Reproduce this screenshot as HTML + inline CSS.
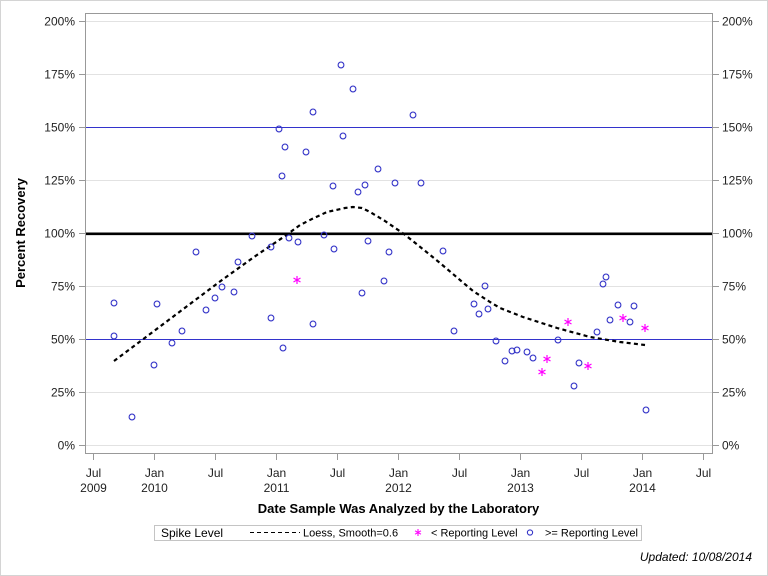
<!DOCTYPE html>
<html><head><meta charset="utf-8"><style>
html,body{margin:0;padding:0;background:#fff;}
svg{display:block;font-family:"Liberation Sans",Arial,sans-serif;}
</style></head><body>
<svg width="768" height="576" viewBox="0 0 768 576" xmlns="http://www.w3.org/2000/svg">
<rect x="0.5" y="0.5" width="767" height="575" fill="#fff" stroke="#d4d4d4" stroke-width="1"/>
<!-- gridlines -->
<g stroke="#e2e2e2" stroke-width="1">
<line x1="86" y1="21.5" x2="712" y2="21.5"/>
<line x1="86" y1="74.5" x2="712" y2="74.5"/>
<line x1="86" y1="180.5" x2="712" y2="180.5"/>
<line x1="86" y1="286.5" x2="712" y2="286.5"/>
<line x1="86" y1="392.5" x2="712" y2="392.5"/>
<line x1="86" y1="445.5" x2="712" y2="445.5"/>
</g>
<!-- reference lines -->
<line x1="86" y1="127.5" x2="712" y2="127.5" stroke="#3333cc" stroke-width="1"/>
<line x1="86" y1="339.5" x2="712" y2="339.5" stroke="#3333cc" stroke-width="1"/>
<line x1="86" y1="233.8" x2="712" y2="233.8" stroke="#000" stroke-width="2.6"/>
<!-- frame -->
<rect x="85.5" y="13.5" width="627" height="440" fill="none" stroke="#999" stroke-width="1"/>
<!-- y ticks -->
<g stroke="#999" stroke-width="1">
<line x1="79" y1="21.5" x2="85" y2="21.5"/><line x1="79" y1="74.5" x2="85" y2="74.5"/>
<line x1="79" y1="127.5" x2="85" y2="127.5"/><line x1="79" y1="180.5" x2="85" y2="180.5"/>
<line x1="79" y1="233.5" x2="85" y2="233.5"/><line x1="79" y1="286.5" x2="85" y2="286.5"/>
<line x1="79" y1="339.5" x2="85" y2="339.5"/><line x1="79" y1="392.5" x2="85" y2="392.5"/>
<line x1="79" y1="445.5" x2="85" y2="445.5"/>
<line x1="713" y1="21.5" x2="719" y2="21.5"/><line x1="713" y1="74.5" x2="719" y2="74.5"/>
<line x1="713" y1="127.5" x2="719" y2="127.5"/><line x1="713" y1="180.5" x2="719" y2="180.5"/>
<line x1="713" y1="233.5" x2="719" y2="233.5"/><line x1="713" y1="286.5" x2="719" y2="286.5"/>
<line x1="713" y1="339.5" x2="719" y2="339.5"/><line x1="713" y1="392.5" x2="719" y2="392.5"/>
<line x1="713" y1="445.5" x2="719" y2="445.5"/>
</g>
<g font-size="12" fill="#222" text-anchor="end">
<text x="75" y="25.5">200%</text><text x="75" y="78.5">175%</text>
<text x="75" y="131.5">150%</text><text x="75" y="184.5">125%</text>
<text x="75" y="237.5">100%</text><text x="75" y="290.5">75%</text>
<text x="75" y="343.5">50%</text><text x="75" y="396.5">25%</text>
<text x="75" y="449.5">0%</text>
</g>
<g font-size="12" fill="#222" text-anchor="start">
<text x="722" y="25.5">200%</text><text x="722" y="78.5">175%</text>
<text x="722" y="131.5">150%</text><text x="722" y="184.5">125%</text>
<text x="722" y="237.5">100%</text><text x="722" y="290.5">75%</text>
<text x="722" y="343.5">50%</text><text x="722" y="396.5">25%</text>
<text x="722" y="449.5">0%</text>
</g>
<!-- x ticks -->
<g stroke="#999" stroke-width="1">
<line x1="93.5" y1="454" x2="93.5" y2="460"/><line x1="154.5" y1="454" x2="154.5" y2="460"/>
<line x1="215.5" y1="454" x2="215.5" y2="460"/><line x1="276.5" y1="454" x2="276.5" y2="460"/>
<line x1="337.5" y1="454" x2="337.5" y2="460"/><line x1="398.5" y1="454" x2="398.5" y2="460"/>
<line x1="459.5" y1="454" x2="459.5" y2="460"/><line x1="520.5" y1="454" x2="520.5" y2="460"/>
<line x1="581.5" y1="454" x2="581.5" y2="460"/><line x1="642.5" y1="454" x2="642.5" y2="460"/>
<line x1="703.5" y1="454" x2="703.5" y2="460"/>
</g>
<g font-size="12" fill="#222" text-anchor="middle">
<text x="93.5" y="477">Jul</text><text x="93.5" y="492">2009</text>
<text x="154.5" y="477">Jan</text><text x="154.5" y="492">2010</text>
<text x="215.5" y="477">Jul</text>
<text x="276.5" y="477">Jan</text><text x="276.5" y="492">2011</text>
<text x="337.5" y="477">Jul</text>
<text x="398.5" y="477">Jan</text><text x="398.5" y="492">2012</text>
<text x="459.5" y="477">Jul</text>
<text x="520.5" y="477">Jan</text><text x="520.5" y="492">2013</text>
<text x="581.5" y="477">Jul</text>
<text x="642.5" y="477">Jan</text><text x="642.5" y="492">2014</text>
<text x="703.5" y="477">Jul</text>
</g>
<!-- axis titles -->
<text x="398.5" y="513" font-size="13" font-weight="bold" text-anchor="middle" fill="#000">Date Sample Was Analyzed by the Laboratory</text>
<text transform="translate(25,233) rotate(-90)" font-size="13" font-weight="bold" text-anchor="middle" fill="#000">Percent Recovery</text>
<!-- loess -->
<polyline fill="none" stroke="#000" stroke-width="2.2" stroke-dasharray="4,3.3" stroke-linejoin="round"
points="114,361 150,334 186,307 222,280 254,257 285,236 300,225 314,218 327,212 345,208 353,207 362,208 370,212 385,221 404,234 424,250 440,263 460,280 473,291 490,302 500,308 523,317 557,328 590,337 620,342 645,345"/>
<!-- circles -->
<g fill="none" stroke="#3535c8" stroke-width="1.1">
<circle cx="114" cy="303" r="2.9"/><circle cx="114" cy="336" r="2.9"/>
<circle cx="132" cy="417" r="2.9"/><circle cx="154" cy="365" r="2.9"/>
<circle cx="157" cy="304" r="2.9"/><circle cx="172" cy="343" r="2.9"/>
<circle cx="182" cy="331" r="2.9"/><circle cx="196" cy="252" r="2.9"/>
<circle cx="206" cy="310" r="2.9"/><circle cx="215" cy="298" r="2.9"/>
<circle cx="222" cy="287" r="2.9"/><circle cx="234" cy="292" r="2.9"/>
<circle cx="238" cy="262" r="2.9"/><circle cx="252" cy="236" r="2.9"/>
<circle cx="271" cy="318" r="2.9"/><circle cx="271" cy="247" r="2.9"/>
<circle cx="279" cy="129" r="2.9"/><circle cx="282" cy="176" r="2.9"/>
<circle cx="285" cy="147" r="2.9"/><circle cx="283" cy="348" r="2.9"/>
<circle cx="289" cy="238" r="2.9"/><circle cx="298" cy="242" r="2.9"/>
<circle cx="306" cy="152" r="2.9"/><circle cx="313" cy="112" r="2.9"/>
<circle cx="313" cy="324" r="2.9"/><circle cx="324" cy="235" r="2.9"/>
<circle cx="334" cy="249" r="2.9"/><circle cx="333" cy="186" r="2.9"/>
<circle cx="341" cy="65" r="2.9"/><circle cx="343" cy="136" r="2.9"/>
<circle cx="353" cy="89" r="2.9"/><circle cx="358" cy="192" r="2.9"/>
<circle cx="362" cy="293" r="2.9"/><circle cx="365" cy="185" r="2.9"/>
<circle cx="368" cy="241" r="2.9"/><circle cx="378" cy="169" r="2.9"/>
<circle cx="384" cy="281" r="2.9"/><circle cx="389" cy="252" r="2.9"/>
<circle cx="395" cy="183" r="2.9"/><circle cx="413" cy="115" r="2.9"/>
<circle cx="421" cy="183" r="2.9"/><circle cx="443" cy="251" r="2.9"/>
<circle cx="454" cy="331" r="2.9"/><circle cx="474" cy="304" r="2.9"/>
<circle cx="479" cy="314" r="2.9"/><circle cx="485" cy="286" r="2.9"/>
<circle cx="488" cy="309" r="2.9"/><circle cx="496" cy="341" r="2.9"/>
<circle cx="505" cy="361" r="2.9"/><circle cx="512" cy="351" r="2.9"/>
<circle cx="517" cy="350" r="2.9"/><circle cx="527" cy="352" r="2.9"/>
<circle cx="533" cy="358" r="2.9"/><circle cx="558" cy="340" r="2.9"/>
<circle cx="574" cy="386" r="2.9"/><circle cx="579" cy="363" r="2.9"/>
<circle cx="597" cy="332" r="2.9"/><circle cx="603" cy="284" r="2.9"/>
<circle cx="606" cy="277" r="2.9"/><circle cx="610" cy="320" r="2.9"/>
<circle cx="618" cy="305" r="2.9"/><circle cx="630" cy="322" r="2.9"/>
<circle cx="634" cy="306" r="2.9"/><circle cx="646" cy="410" r="2.9"/>
</g>
<!-- stars -->
<defs>
<g id="st"><path d="M0,-4 V4 M-3.5,-2 L3.5,2 M-3.5,2 L3.5,-2" stroke="#ff00ff" stroke-width="1.2" fill="none"/></g>
</defs>
<use href="#st" x="297" y="280"/>
<use href="#st" x="542" y="372"/>
<use href="#st" x="547" y="359"/>
<use href="#st" x="568" y="322"/>
<use href="#st" x="588" y="366"/>
<use href="#st" x="623" y="318"/>
<use href="#st" x="645" y="328"/>
<!-- legend -->
<rect x="154.5" y="525.5" width="487" height="15" fill="#fff" stroke="#c4c4c4" stroke-width="1"/>
<text x="161" y="537" font-size="12" fill="#000">Spike Level</text>
<line x1="250" y1="532.5" x2="300" y2="532.5" stroke="#000" stroke-width="1" stroke-dasharray="4,3"/>
<text x="303" y="536.5" font-size="11" fill="#000">Loess, Smooth=0.6</text>
<path d="M418,529 V536 M415,530.8 L421,534.2 M415,534.2 L421,530.8" stroke="#ff00ff" stroke-width="1.1" fill="none"/>
<text x="431" y="536.5" font-size="11" fill="#000">&lt; Reporting Level</text>
<circle cx="530" cy="532.5" r="2.6" fill="none" stroke="#3535c8" stroke-width="1.1"/>
<text x="545" y="536.5" font-size="11" fill="#000">&gt;= Reporting Level</text>
<text x="752" y="561" font-size="12" font-style="italic" text-anchor="end" fill="#000">Updated: 10/08/2014</text>
</svg>
</body></html>
